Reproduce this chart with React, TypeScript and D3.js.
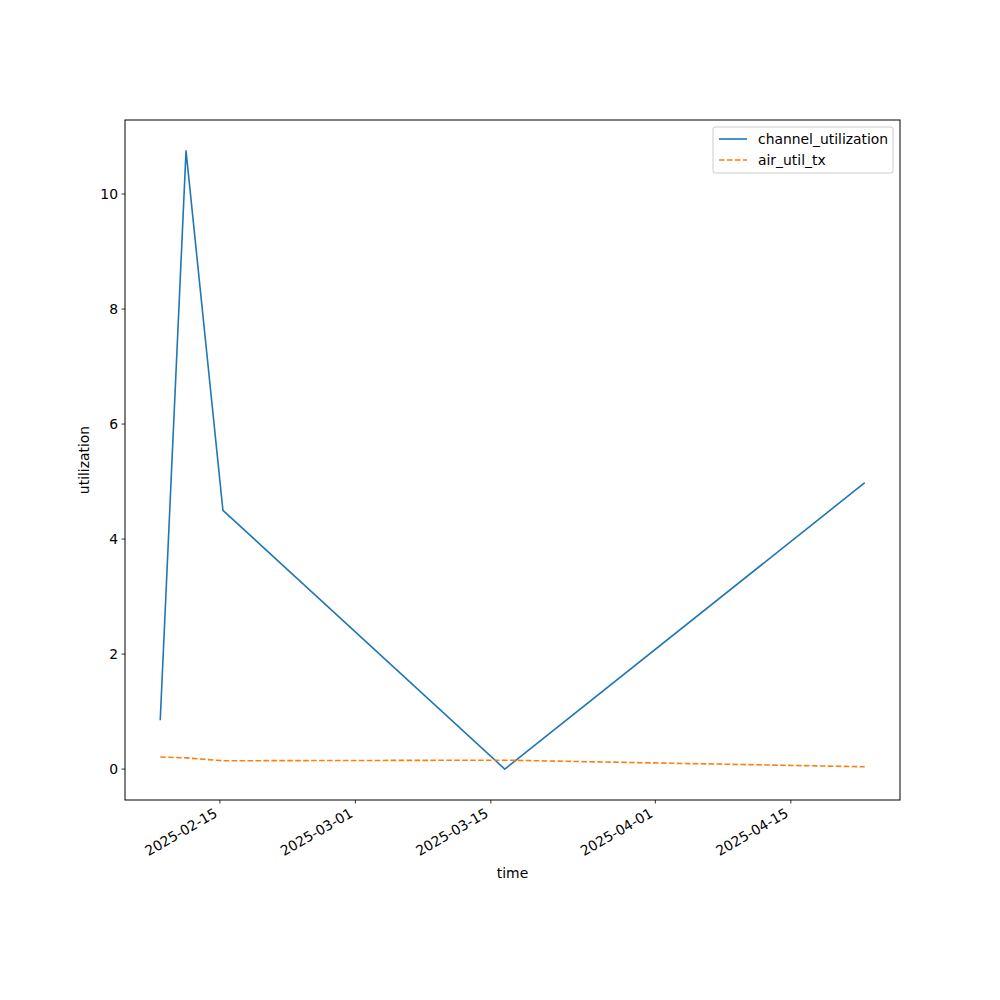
import React from "react";
import * as d3 from "d3";

const times = [
  "2025-02-08T20:00:00",
  "2025-02-11T12:00:00",
  "2025-02-15T07:30:00",
  "2025-03-16T10:30:00",
  "2025-04-22T15:20:00",
];
const channelUtilization = [0.85, 10.75, 4.5, 0.0, 4.98];
const airUtilTx = [0.21, 0.195, 0.145, 0.155, 0.04];
const xTickLabels = ["2025-02-15", "2025-03-01", "2025-03-15", "2025-04-01", "2025-04-15"];
const yTicks = [0, 2, 4, 6, 8, 10];
const seriesNames = ["channel_utilization", "air_util_tx"];
const colors = ["#1f77b4", "#ff7f0e"];

export default function App() {
  const W = 1000, H = 1000;
  const L = 125, R = 900, T = 120, B = 800;
  const dates = times.map((t) => new Date(t));
  const tMin = +dates[0], tMax = +dates[dates.length - 1];
  const xPad = (tMax - tMin) * 0.05;
  const x = d3.scaleTime().domain([new Date(tMin - xPad), new Date(tMax + xPad)]).range([L, R]);
  const all = [...channelUtilization, ...airUtilTx];
  const yMin = d3.min(all)!, yMax = d3.max(all)!;
  const yPad = (yMax - yMin) * 0.05;
  const y = d3.scaleLinear().domain([yMin - yPad, yMax + yPad]).range([B, T]);
  const line = d3.line<[Date, number]>().x((d) => x(d[0])).y((d) => y(d[1]));
  const series = [channelUtilization, airUtilTx].map((vals) => vals.map((v, i) => [dates[i], v] as [Date, number]));
  const font = "DejaVu Sans, sans-serif";
  const fs = 13.9;
  return (
    <svg width={W} height={H} style={{ display: "block", position: "absolute", left: 0, top: 0 }} fontFamily={font}>
      <rect x={0} y={0} width={W} height={H} fill="#fff" />
      <defs>
        <clipPath id="clip"><rect x={L} y={T} width={R - L} height={B - T} /></clipPath>
      </defs>
      <g clipPath="url(#clip)">
        {series.map((s, i) => (
          <path key={i} d={line(s)!} fill="none" stroke={colors[i]} strokeWidth={1.6}
            strokeDasharray={i === 1 ? "5.55,2.4" : undefined} strokeLinejoin="round" />
        ))}
      </g>
      <rect x={L} y={T} width={R - L} height={B - T} fill="none" stroke="#000" strokeWidth={1} />
      {yTicks.map((t) => (
        <g key={t} transform={`translate(${L},${y(t)})`}>
          <line x1={-3.5} x2={0} stroke="#000" strokeWidth={0.8} />
          <text x={-7} dy="0.35em" textAnchor="end" fontSize={fs} fill="#000">{t}</text>
        </g>
      ))}
      {xTickLabels.map((lbl) => {
        const xx = x(new Date(lbl + "T00:00:00"));
        return (
          <g key={lbl} transform={`translate(${xx},${B})`}>
            <line y1={0} y2={3.5} stroke="#000" strokeWidth={0.8} />
            <text transform="translate(-1.5,16) rotate(-30)" textAnchor="end" fontSize={fs} fill="#000">{lbl}</text>
          </g>
        );
      })}
      <text x={(L + R) / 2} y={878} textAnchor="middle" fontSize={fs} fill="#000">time</text>
      <text transform={`translate(89,${(T + B) / 2}) rotate(-90)`} textAnchor="middle" fontSize={fs} fill="#000">utilization</text>
      <g>
        <rect x={713} y={127} width={180} height={46} rx={2} fill="#fff" fillOpacity={0.8} stroke="#ccc" strokeWidth={1} />
        {seriesNames.map((n, i) => (
          <g key={n} transform={`translate(0,${139 + i * 21})`}>
            <line x1={719} x2={747} stroke={colors[i]} strokeWidth={1.6} strokeDasharray={i === 1 ? "5.55,2.4" : undefined} />
            <text x={758} dy="0.35em" fontSize={fs} fill="#000">{n}</text>
          </g>
        ))}
      </g>
    </svg>
  );
}
